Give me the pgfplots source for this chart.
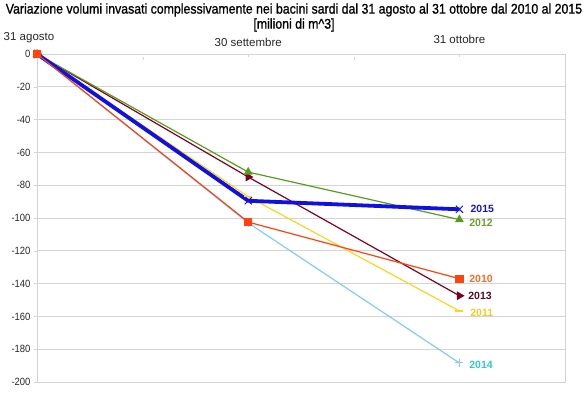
\documentclass[border=0pt]{standalone}
\usepackage{pgfplots}
\pgfplotsset{compat=1.18}
\usepackage{fontspec}
\setmainfont{Liberation Sans}
\newfontfamily\titlefont[FakeStretch=0.88,FakeBold=1]{Liberation Sans}
\newfontfamily\tickfont[FakeStretch=0.9]{Liberation Sans}
\definecolor{c2010}{HTML}{FF420E}
\definecolor{c2011}{HTML}{FFD320}
\definecolor{c2012}{HTML}{579D1C}
\definecolor{c2013}{HTML}{7E0021}
\definecolor{c2014}{HTML}{83CAFF}
\definecolor{c2015}{HTML}{1010E0}
\definecolor{l2010}{HTML}{FF6A2A}
\definecolor{l2011}{HTML}{F5CE20}
\definecolor{l2012}{HTML}{6A9E2E}
\definecolor{l2013}{HTML}{5A0A20}
\definecolor{l2014}{HTML}{33C8D0}
\definecolor{l2015}{HTML}{1515CC}
\definecolor{gridc}{HTML}{D4D4D4}
\begin{document}
\begin{tikzpicture}
\path[use as bounding box] (0bp,0bp) rectangle (587bp,394bp);
\node[font=\titlefont\fontsize{14bp}{16bp}\selectfont, inner sep=0pt] at (294bp,384bp) {Variazione volumi invasati complessivamente nei bacini sardi dal 31 agosto al 31 ottobre dal 2010 al 2015};
\node[font=\titlefont\fontsize{14bp}{16bp}\selectfont, inner sep=0pt] at (294bp,369bp) {[milioni di m\^{}3]};
\begin{axis}[
  at={(37bp,12bp)}, anchor=south west,
  scale only axis, width=528bp, height=328bp,
  xmin=0, xmax=2.5, ymin=-200, ymax=0,
  ytick={-200,-180,-160,-140,-120,-100,-80,-60,-40,-20,0},
  yticklabels={-200,-180,-160,-140,-120,-100,-80,-60,-40,-20,0},
  xtick={1,2}, minor xtick={0.5,1.5},
  xticklabels={30 settembre,\raisebox{3bp}{31 ottobre}},
  xtick pos=upper, xticklabel pos=upper, ytick pos=left,
  tick align=outside, major tick length=3bp, minor tick length=3bp,
  x tick style={draw=gridc, yshift=-3bp},
  minor x tick style={draw=gridc, yshift=-3bp},
  y tick style={draw=gridc},
  ymajorgrids, grid style={gridc, line width=0.8bp},
  axis line style={gridc, line width=0.8bp},
  x tick label style={font=\fontsize{11.5bp}{13bp}\selectfont, text=black!85, yshift=1bp},
  y tick label style={font=\tickfont\fontsize{10.5bp}{12bp}\selectfont, text=black!85},
  clip=false,
  every axis plot/.append style={line width=1.2bp},
]
\addplot[c2014, mark=+, mark size=4bp, mark options={line width=1bp}] coordinates {(0,0) (1,-103) (2,-188.4)}
  node[pos=1, anchor=west, xshift=6bp, yshift=-1.5bp, font=\bfseries\fontsize{10.5bp}{12bp}\selectfont, text=l2014] {2014};
\addplot[c2011, mark=-, mark size=4bp, mark options={line width=1.2bp}] coordinates {(0,0) (1,-87) (2,-156.7)}
  node[pos=1, anchor=west, xshift=7bp, yshift=-2bp, font=\bfseries\fontsize{10.5bp}{12bp}\selectfont, text=l2011] {2011};
\addplot[c2013, mark=triangle*, mark size=4bp, mark options={rotate=-90}] coordinates {(0,0) (1,-75) (2,-147.4)}
  node[pos=1, anchor=west, xshift=5bp, yshift=-0.5bp, font=\bfseries\fontsize{10.5bp}{12bp}\selectfont, text=l2013] {2013};
\addplot[c2012, mark=triangle*, mark size=4bp] coordinates {(0,0) (1,-72) (2,-101)}
  node[pos=1, anchor=west, xshift=6bp, yshift=-3.5bp, font=\bfseries\fontsize{10.5bp}{12bp}\selectfont, text=l2012] {2012};
\addplot[c2015, line width=3.8bp, mark=x, mark size=5bp, mark options={line width=1bp}] coordinates {(0,0) (1,-89.5) (2,-94.7)}
  node[pos=1, anchor=west, xshift=6bp, yshift=0.5bp, font=\bfseries\fontsize{10.5bp}{12bp}\selectfont, text=l2015] {2015};
\addplot[c2010, mark=square*, mark size=3.5bp] coordinates {(0,0) (1,-102.5) (2,-137)}
  node[pos=1, anchor=west, xshift=6bp, yshift=-0.5bp, font=\bfseries\fontsize{10.5bp}{12bp}\selectfont, text=l2010] {2010};
\end{axis}
\node[font=\fontsize{11.5bp}{13bp}\selectfont, text=black!85, inner sep=0pt] at (29bp,356bp) {31 agosto};
\end{tikzpicture}
\end{document}
